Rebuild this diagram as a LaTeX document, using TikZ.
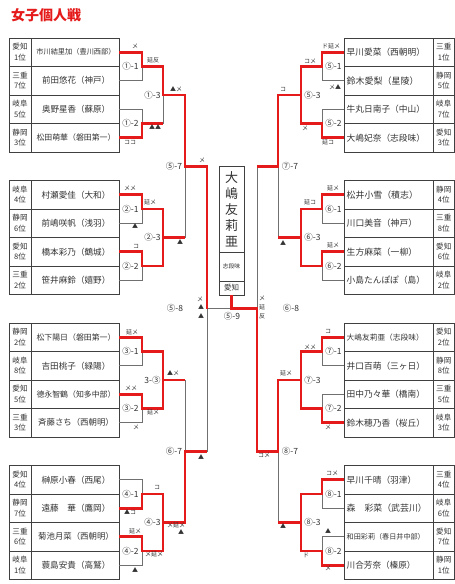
\documentclass[tikz,border=0pt]{standalone}
\usepackage{fontspec}
\setmainfont{Noto Sans CJK JP}
\definecolor{rd}{HTML}{E51A1A}
\definecolor{ln}{HTML}{707070}
\definecolor{tb}{HTML}{404040}
\definecolor{tx}{HTML}{333333}
\tikzset{
 gl/.style={draw=ln,line width=1pt},
 rl/.style={draw=rd,line width=2.6pt,line join=miter},
 tbl/.style={draw=tb,line width=0.9pt},
 nm/.style={text=tx,inner sep=0pt},
 pf/.style={text=tx,inner sep=0pt,align=center,font=\fontsize{7.6}{10.5}\selectfont},
 lab/.style={text=tx,inner sep=0pt,font=\fontsize{8.5}{8.5}\selectfont},
 mk/.style={text=tx,inner sep=0pt,font=\fontsize{6}{6}\selectfont},
}
\begin{document}
\begin{tikzpicture}[x=1pt,y=-1pt]
\useasboundingbox (0,0) rectangle (455,584);
\fill[white] (0,0) rectangle (455,584);
\node[text=rd,font=\fontsize{14}{14}\selectfont\bfseries,anchor=west,inner sep=0pt] (title) at (11,15) {女子個人戦};

% tables
\foreach \T in {38,180.5,323,465.5}{
 \draw[tbl] (9,\T) rectangle (119,\T+114);
 \draw[tbl] (31,\T) -- (31,\T+114);
 \foreach \k in {1,2,3} \draw[tbl] (9,\T+28.5*\k) -- (119,\T+28.5*\k);
 \draw[tbl] (344,\T) rectangle (454.5,\T+114);
 \draw[tbl] (433,\T) -- (433,\T+114);
 \foreach \k in {1,2,3} \draw[tbl] (344,\T+28.5*\k) -- (454.5,\T+28.5*\k);
}

% left players
\foreach \id/\y/\nm/\pa/\pb/\fs in {
 L1/52.25/市川結里加（豊川西部）/愛知/1位/7.2,
 L2/80.75/前田悠花（神戸）/三重/7位/8.5,
 L3/109.25/奥野星香（蘇原）/岐阜/5位/8.5,
 L4/137.75/松田萌華（磐田第一）/静岡/3位/7.9,
 L5/194.75/村瀬愛佳（大和）/岐阜/4位/8.6,
 L6/223.25/前嶋咲帆（浅羽）/静岡/6位/8.6,
 L7/251.75/橋本彩乃（鶴城）/愛知/8位/8.6,
 L8/280.25/笹井麻鈴（嬉野）/三重/2位/8.6,
 L9/337.25/松下陽日（磐田第一）/静岡/2位/7.9,
 L10/365.75/吉田桃子（緑陽）/岐阜/8位/8.6,
 L11/394.25/德永智鶴（知多中部）/愛知/5位/7.9,
 L12/422.75/斉藤さち（西朝明）/三重/3位/8.4,
 L13/479.75/榊原小春（西尾）/愛知/4位/8.6,
 L14/508.25/遠藤　華（鷹岡）/静岡/7位/8.6,
 L15/536.75/菊池月菜（西朝明）/三重/6位/8.4,
 L16/565.25/蓑島安貴（高鷲）/岐阜/1位/8.6}{
 \node[nm,font=\fontsize{\fs}{\fs}\selectfont] (\id) at (76,\y) {\nm};
 \node[pf] (\id p) at (20,\y) {\pa\\\pb};
 \coordinate (\id e) at (119,\y);
}
% right players
\foreach \id/\y/\nm/\pa/\pb/\fs in {
 R1/52.25/早川愛菜（西朝明）/三重/1位/8.7,
 R2/80.75/鈴木愛梨（星陵）/静岡/5位/9,
 R3/109.25/牛丸日南子（中山）/岐阜/7位/8.7,
 R4/137.75/大嶋妃奈（志段味）/愛知/3位/8.7,
 R5/194.75/松井小雪（積志）/静岡/4位/8.9,
 R6/223.25/川口美音（神戸）/三重/8位/8.8,
 R7/251.75/生方麻菜（一柳）/愛知/6位/8.8,
 R8/280.25/小島たんぽぽ（島）/岐阜/2位/8.7,
 R9/337.25/大嶋友莉亜（志段味）/愛知/2位/7.7,
 R10/365.75/井口百萌（三ヶ日）/静岡/8位/8.7,
 R11/394.25/田中乃々華（橋南）/三重/5位/8.7,
 R12/422.75/鈴木穂乃香（桜丘）/岐阜/3位/8.7,
 R13/479.75/早川千晴（羽津）/三重/4位/8.7,
 R14/508.25/森　彩菜（武芸川）/岐阜/6位/8.9,
 R15/536.75/和田彩莉（春日井中部）/愛知/7位/7.1,
 R16/565.25/川合芳奈（榛原）/静岡/1位/8.6}{
 \node[nm,anchor=west,font=\fontsize{\fs}{\fs}\selectfont] (\id) at (346.5,\y) {\nm};
 \node[pf] (\id p) at (443.75,\y) {\pa\\\pb};
 \coordinate (\id e) at (344,\y);
}

% champion box
\node[tbl,draw,minimum width=25pt,minimum height=129pt,inner sep=0pt] (champ) at (231.5,230.5) {};
\draw[tbl] (219,252) -- (244,252);
\draw[tbl] (219,281) -- (244,281);
\node[nm,align=center,font=\fontsize{13}{16}\selectfont] (cname) at (231.5,209) {大\\嶋\\友\\莉\\亜};
\node[nm,font=\fontsize{5.8}{5.8}\selectfont] (cschool) at (231.5,266.5) {志段味};
\node[nm,font=\fontsize{7.5}{7.5}\selectfont] (cpref) at (231.5,288) {愛知};
\coordinate (F) at (champ.south);

% junctions
\foreach \b/\T in {1/38,2/180.5,3/323,4/465.5}{
 \coordinate (M\b1) at (142,\T+28.5);
 \coordinate (M\b2) at (142,\T+85.5);
 \coordinate (M\b3) at (163,\T+57);
 \coordinate (N\b1) at (322,\T+28.5);
 \coordinate (N\b2) at (322,\T+85.5);
 \coordinate (N\b3) at (301,\T+57);
}
\coordinate (M57) at (185,166.25);
\coordinate (M67) at (185,451.25);
\coordinate (M58) at (207,308.75);
\coordinate (N77) at (278,166.25);
\coordinate (N87) at (278,451.25);
\coordinate (N68) at (257,308.75);

% gray bracket
\foreach \b/\p in {1/1,2/5,3/9,4/13}{
 \pgfmathtruncatemacro{\pa}{\p}\pgfmathtruncatemacro{\pb}{\p+1}
 \pgfmathtruncatemacro{\pc}{\p+2}\pgfmathtruncatemacro{\pd}{\p+3}
 \draw[gl] (L\pa e) -| (M\b1); \draw[gl] (L\pb e) -| (M\b1);
 \draw[gl] (L\pc e) -| (M\b2); \draw[gl] (L\pd e) -| (M\b2);
 \draw[gl] (M\b1) -| (M\b3); \draw[gl] (M\b2) -| (M\b3);
 \draw[gl] (R\pa e) -| (N\b1); \draw[gl] (R\pb e) -| (N\b1);
 \draw[gl] (R\pc e) -| (N\b2); \draw[gl] (R\pd e) -| (N\b2);
 \draw[gl] (N\b1) -| (N\b3); \draw[gl] (N\b2) -| (N\b3);
}
\draw[gl] (M13) -| (M57); \draw[gl] (M23) -| (M57);
\draw[gl] (M33) -| (M67); \draw[gl] (M43) -| (M67);
\draw[gl] (M57) -| (M58); \draw[gl] (M67) -| (M58);
\draw[gl] (N13) -| (N77); \draw[gl] (N23) -| (N77);
\draw[gl] (N33) -| (N87); \draw[gl] (N43) -| (N87);
\draw[gl] (N77) -| (N68); \draw[gl] (N87) -| (N68);
\draw[gl] (M58) -| (F); \draw[gl] (N68) -| (F);

% red winners
\draw[rl] (L1e) -| (M11) -| (M13) -| (M57) -| (M58);
\draw[rl] (L4e) -| (M12) -- (M12 -| M13);
\draw[rl] (L5e) -| (M21) -| (M23) -- (M23 -| M57);
\draw[rl] (L7e) -| (M22) -| (M23);
\draw[rl] (L9e) -| (M31) -| (M33);
\draw[rl] (L11e) -| (M32) -| (M33) -- (M33 -| M67);
\draw[rl] (L14e) -| (M41) -| (M43);
\draw[rl] (L15e) -| (M42) -| (M43) -| (M67) -- (M67 -| M58);
\draw[rl] (R1e) -| (N11) -| (N13) -| (N77) -- (N77 -| N68);
\draw[rl] (R4e) -| (N12) -| (N13);
\draw[rl] (R5e) -| (N21) -| (N23) -- (N23 -| N77);
\draw[rl] (R7e) -| (N22) -| (N23);
\draw[rl] (R9e) -| (N31) -| (N33) -| (N87) -| (N68) -| (F);
\draw[rl] (R12e) -| (N32) -| (N33);
\draw[rl] (R13e) -| (N41) -| (N43);
\draw[rl] (R16e) -| (N42) -| (N43) -- (N43 -| N87);

% match labels
\foreach \n/\x/\y/\t in {
 a11/130.5/66.5/①-1, a12/130.5/123.5/①-2, a13/152.5/95/①-3,
 a21/130.5/209/②-1, a22/130.5/266/②-2, a23/152.5/237.5/②-3,
 a31/130.5/351.5/③-1, a32/130.5/408.5/③-2, a33/152.5/380/3-③,
 a41/130.5/494/④-1, a42/130.5/551/④-2, a43/152.5/522.5/④-3,
 a57/174/166.25/⑤-7, a67/174/451.25/⑥-7, a58/175/308.75/⑤-8,
 b11/333.5/66.5/⑤-1, b12/333.5/123.5/⑤-2, b13/312.5/95/⑤-3,
 b21/333.5/209/⑥-1, b22/333.5/266/⑥-2, b23/312.5/237.5/⑥-3,
 b31/333.5/351.5/⑦-1, b32/333.5/408.5/⑦-2, b33/312.5/380/⑦-3,
 b41/333.5/494/⑧-1, b42/333.5/551/⑧-2, b43/312.5/522.5/⑧-3,
 b77/290/166.25/⑦-7, b87/290/451.25/⑧-7, b68/291/308.75/⑥-8,
 fin/232/316/⑤-9}{
 \node[lab] (\n) at (\x,\y) {\t};
}

% score marks
\foreach \n/\x/\y/\t in {
 k1/135/46/メ, k2/153/60/延反, k3/176/89/▲メ, k4/155/127/▲▲, k5/130/142.5/ココ,
 k6/202/160/メ, k7/180/242.5/▲, k8/130/188/メメ, k9/150/202/延メ, k10/135/226/▲,
 k11/136/246.5/コ, k12/200/299/メ, k13/201/307.5/▲, k14/201/316/▲,
 k15/132/332/延メ, k16/173/373/▲メ, k17/131/388/メメ, k18/153/412.5/延メ,
 k19/136/427/メ, k20/201/457/▲, k21/157/487/コ, k22/130/512/▲コ,
 k23/176/525.5/メ延メ, k24/181/532/▲, k25/135/531/延メ, k26/154/554.5/メ延メ,
 k27/135/570/▲,
 j1/331/46/ド延メ, j2/310/61/コメ, j3/335/87/メ▲, j4/283/89/コ, j5/305/128/メ,
 j6/328/142/延コ, j7/333/188/延メ, j8/310/202/延コ, j9/283/243/▲, j10/333/245/延メ,
 j11/262/298/メ, j12/262/307/延, j13/262/316/反, j14/328/331/コ, j15/310/347/メメ,
 j16/286/373/延メ, j17/328/427/メ, j18/264/455/コメ, j19/332/473/コメ,
 j20/328/531/▲, j21/283/526/▲, j22/306/555/ド, j23/328/568/メ}{
 \node[mk] (\n) at (\x,\y) {\t};
}
\end{tikzpicture}
\end{document}
